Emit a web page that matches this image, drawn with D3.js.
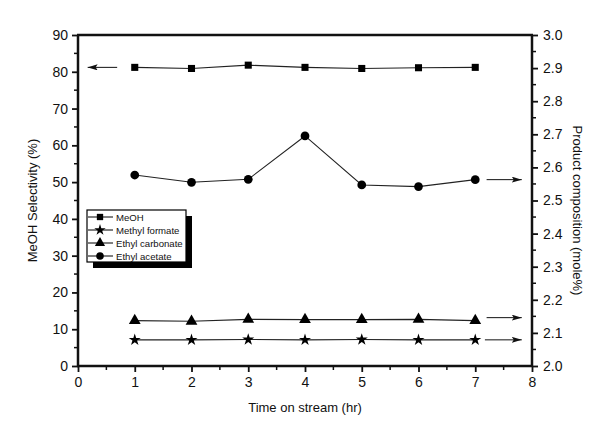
<!DOCTYPE html>
<html><head><meta charset="utf-8">
<script src="https://cdn.jsdelivr.net/npm/d3@7"></script>
<style>body{margin:0;background:#fff}svg{display:block}text{font-family:Arial,"Liberation Sans",sans-serif;fill:#111}</style>
</head><body><svg id="c" width="615" height="423"></svg>
<script>
const times = [1,2,3,4,5,6,7];
const meoh = [81.2,80.9,81.8,81.2,80.9,81.1,81.2];            // left axis (%)
const methylFormate = [2.079,2.079,2.080,2.079,2.080,2.079,2.079]; // right axis
const ethylCarbonate = [2.137,2.135,2.141,2.140,2.140,2.141,2.137];
const ethylAcetate = [2.577,2.555,2.564,2.695,2.547,2.542,2.563];
const xTicks = [0,1,2,3,4,5,6,7,8];
const leftTicks = [0,10,20,30,40,50,60,70,80,90];
const rightTicks = [2.0,2.1,2.2,2.3,2.4,2.5,2.6,2.7,2.8,2.9,3.0];
const legendNames = ["MeOH","Methyl formate","Ethyl carbonate","Ethyl acetate"];

const L=78,R=532,T=35,B=366;
const svg=d3.select("#c");
const x=d3.scaleLinear().domain([0,8]).range([L,R]);
const yl=d3.scaleLinear().domain([0,90]).range([B,T]);
const yr=d3.scaleLinear().domain([2,3]).range([B,T]);

svg.append("defs").append("marker").attr("id","ah").attr("viewBox","0 0 10 6").attr("refX",10).attr("refY",3)
  .attr("markerWidth",10).attr("markerHeight",6).attr("markerUnits","userSpaceOnUse").attr("orient","auto")
  .append("path").attr("d","M0,0L10,3L0,6L2,3Z").attr("fill","#111");

const g=svg.append("g");
d3.range(0.5,8,1).forEach(v=>g.append("line").attr("x1",x(v)).attr("x2",x(v)).attr("y1",B).attr("y2",B+4).attr("stroke","#111").attr("stroke-width",1.5));
d3.range(5,90,10).forEach(v=>g.append("line").attr("x1",L).attr("x2",L-4).attr("y1",yl(v)).attr("y2",yl(v)).attr("stroke","#111").attr("stroke-width",1.5));
d3.range(2.05,3,0.1).forEach(v=>g.append("line").attr("x1",R).attr("x2",R+4).attr("y1",yr(v)).attr("y2",yr(v)).attr("stroke","#111").attr("stroke-width",1.5));

const ax=svg.append("g").attr("transform",`translate(0,${B})`).call(d3.axisBottom(x).tickValues(xTicks).tickFormat(d3.format("d")).tickSize(6).tickPadding(5));
const ay=svg.append("g").attr("transform",`translate(${L},0)`).call(d3.axisLeft(yl).tickValues(leftTicks).tickSize(6).tickPadding(4));
const ar=svg.append("g").attr("transform",`translate(${R},0)`).call(d3.axisRight(yr).tickValues(rightTicks).tickFormat(d3.format(".1f")).tickSize(6).tickPadding(5));
[ax,ay,ar].forEach(a=>{a.selectAll("text").style("font-size","14px").attr("fill","#111");a.selectAll(".tick line").attr("stroke","#111").attr("stroke-width",1.8);a.select(".domain").remove();});
svg.append("line").attr("x1",L-1).attr("x2",R+1).attr("y1",T).attr("y2",T).attr("stroke","#111").attr("stroke-width",2.5);
svg.append("line").attr("x1",L-1).attr("x2",R+1).attr("y1",B).attr("y2",B).attr("stroke","#111").attr("stroke-width",2.5);
svg.append("line").attr("x1",L).attr("x2",L).attr("y1",T).attr("y2",B).attr("stroke","#111").attr("stroke-width",2.5);
svg.append("line").attr("x1",R).attr("x2",R).attr("y1",T).attr("y2",B).attr("stroke","#111").attr("stroke-width",2.5);

svg.append("text").attr("x",(L+R)/2).attr("y",412).attr("text-anchor","middle").style("font-size","13px").text("Time on stream (hr)");
svg.append("text").attr("transform",`translate(37,${(T+B)/2}) rotate(-90)`).attr("text-anchor","middle").style("font-size","13px").text("MeOH Selectivity (%)");
svg.append("text").attr("transform",`translate(573,${(T+B)/2+10}) rotate(90)`).attr("text-anchor","middle").style("font-size","13px").text("Product composition (mole%)");

const sym={sq:d3.symbol(d3.symbolSquare,50),st:d3.symbol(d3.symbolStar,45),tr:d3.symbol(d3.symbolTriangle,60),ci:d3.symbol(d3.symbolCircle,60)};
const series=[
  {vals:meoh,y:yl,s:sym.sq},
  {vals:methylFormate,y:yr,s:sym.st},
  {vals:ethylCarbonate,y:yr,s:sym.tr},
  {vals:ethylAcetate,y:yr,s:sym.ci}
];
series.forEach(se=>{
  const line=d3.line().x((d,i)=>x(times[i])).y(d=>se.y(d));
  svg.append("path").datum(se.vals).attr("d",line).attr("fill","none").attr("stroke","#222").attr("stroke-width",1.1);
  svg.selectAll(null).data(se.vals).enter().append("path").attr("d",se.s)
    .attr("transform",(d,i)=>`translate(${x(times[i])},${se.y(d)})`).attr("fill","#000");
});

const arrow=(x1,x2,y)=>svg.append("line").attr("x1",x1).attr("x2",x2).attr("y1",y).attr("y2",y).attr("stroke","#111").attr("stroke-width",1).attr("marker-end","url(#ah)");
arrow(x(0.69),x(0.17),yl(meoh[6]));
arrow(x(7.2),x(7.82),yr(ethylAcetate[6]));
arrow(x(7.2),x(7.82),yr(ethylCarbonate[6])-3);
arrow(x(7.17),x(7.82),yr(methylFormate[6]));

const lg=svg.append("g").attr("transform","translate(87,210)");
lg.append("rect").attr("x",6).attr("y",6).attr("width",99).attr("height",52).attr("fill","#000");
lg.append("rect").attr("x",0).attr("y",0).attr("width",99).attr("height",52).attr("fill","#fff").attr("stroke","#000").attr("stroke-width",1.2);
const lsyms=[d3.symbol(d3.symbolSquare,40),d3.symbol(d3.symbolStar,40),d3.symbol(d3.symbolTriangle,45),d3.symbol(d3.symbolCircle,45)];
legendNames.forEach((n,i)=>{
  const yy=7+i*13;
  lg.append("line").attr("x1",1).attr("x2",26).attr("y1",yy).attr("y2",yy).attr("stroke","#000");
  lg.append("path").attr("d",lsyms[i]).attr("transform",`translate(13,${yy})`).attr("fill","#000");
  lg.append("text").attr("x",29).attr("y",yy+4).style("font-size","9.6px").text(n);
});
</script></body></html>
